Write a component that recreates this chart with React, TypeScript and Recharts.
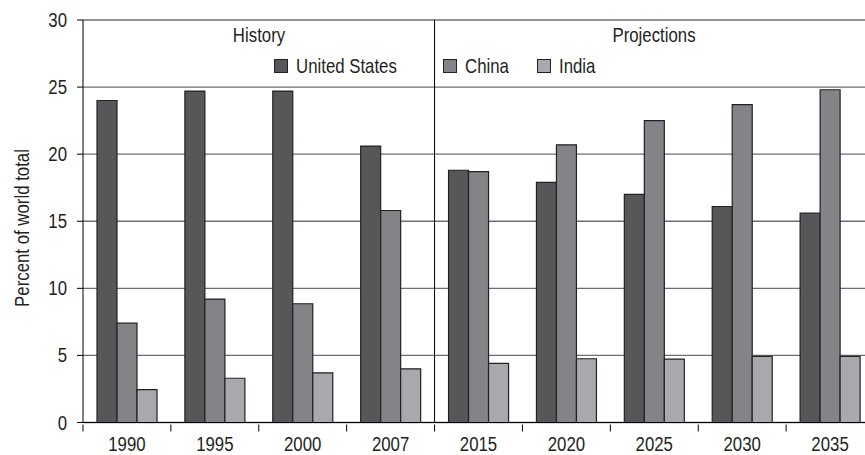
import { BarChart, Bar, XAxis, YAxis, CartesianGrid, ReferenceLine } from "recharts";

const years = ["1990", "1995", "2000", "2007", "2015", "2020", "2025", "2030", "2035"];
const unitedStates = [24.0, 24.7, 24.7, 20.6, 18.8, 17.9, 17.0, 16.1, 15.6];
const china = [7.4, 9.2, 8.85, 15.8, 18.7, 20.7, 22.5, 23.7, 24.8];
const india = [2.45, 3.3, 3.7, 4.0, 4.4, 4.75, 4.73, 4.93, 4.93];
const yTicks = [0, 5, 10, 15, 20, 25, 30];

const data = years.map((year, i) => ({
  year,
  us: unitedStates[i],
  china: china[i],
  india: india[i],
}));

// no condensed font available, so Liberation Sans squeezed horizontally
const FONT = "'Liberation Sans', Arial, sans-serif";
const SQUEEZE = 0.82;
const FS = 20.5;
const TEXT = "#231f20";
const US_COLOR = "#555759";
const CHINA_COLOR = "#838487";
const INDIA_COLOR = "#a8a9ac";

function NarrowText({
  x,
  y,
  anchor = "start",
  rotate = 0,
  children,
}: {
  x: number;
  y: number;
  anchor?: "start" | "middle" | "end";
  rotate?: number;
  children: any;
}) {
  return (
    <text
      transform={`translate(${x} ${y}) rotate(${rotate}) scale(${SQUEEZE} 1)`}
      textAnchor={anchor}
      fill={TEXT}
      fontSize={FS}
      fontFamily={FONT}
    >
      {children}
    </text>
  );
}

function YearTick(props: any) {
  const { x, y, payload } = props;
  const half = payload?.offset ?? 44;
  return (
    <g>
      <line x1={x - half} x2={x - half} y1={y} y2={y + 7} stroke="#000" strokeWidth={1} />
      <NarrowText x={x} y={y + 26} anchor="middle">
        {payload.value}
      </NarrowText>
    </g>
  );
}

function ValueTick(props: any) {
  const { x, y, payload } = props;
  return (
    <NarrowText x={x - 10} y={y + 7} anchor="end">
      {payload.value}
    </NarrowText>
  );
}

const legendItems = [
  { color: US_COLOR, label: "United States", left: 274 },
  { color: CHINA_COLOR, label: "China", left: 443 },
  { color: INDIA_COLOR, label: "India", left: 537 },
];

export default function App() {
  return (
    <div
      style={{
        position: "absolute",
        left: 0,
        top: 0,
        width: 865,
        height: 455,
        overflow: "hidden",
        background: "#fff",
      }}
    >
      <BarChart
        width={874}
        height={455}
        data={data}
        margin={{ top: 20, right: 0, left: 0, bottom: 0 }}
        barCategoryGap={14}
        barGap={0}
      >
        <CartesianGrid vertical={false} stroke="#6d6e71" strokeWidth={1.4} />
        <XAxis
          dataKey="year"
          interval={0}
          height={32.5}
          tickSize={0}
          tickLine={false}
          axisLine={{ stroke: "#000" }}
          tick={<YearTick />}
        />
        <YAxis
          domain={[0, 30]}
          ticks={yTicks}
          width={83}
          tickSize={6}
          tickMargin={0}
          axisLine={{ stroke: "#000" }}
          tickLine={{ stroke: "#000" }}
          tick={<ValueTick />}
          label={{
            content: () => (
              <NarrowText x={29} y={228} anchor="middle" rotate={-90}>
                Percent of world total
              </NarrowText>
            ),
          }}
        />
        <ReferenceLine x="2015" position="start" stroke="#000" strokeWidth={1} />
        <Bar dataKey="us" fill={US_COLOR} stroke="#222" strokeWidth={1.2} isAnimationActive={false} />
        <Bar dataKey="china" fill={CHINA_COLOR} stroke="#222" strokeWidth={1.2} isAnimationActive={false} />
        <Bar dataKey="india" fill={INDIA_COLOR} stroke="#222" strokeWidth={1.2} isAnimationActive={false} />
      </BarChart>

      <svg
        width={865}
        height={100}
        style={{ position: "absolute", left: 0, top: 0, pointerEvents: "none" }}
      >
        <NarrowText x={259} y={42} anchor="middle">
          History
        </NarrowText>
        <NarrowText x={654} y={42} anchor="middle">
          Projections
        </NarrowText>
        {legendItems.map((item) => (
          <g key={item.label}>
            <rect
              x={item.left + 0.5}
              y={59.5}
              width={13}
              height={13}
              fill={item.color}
              stroke="#222"
              strokeWidth={1}
            />
            <NarrowText x={item.left + 22} y={73}>
              {item.label}
            </NarrowText>
          </g>
        ))}
      </svg>
    </div>
  );
}
